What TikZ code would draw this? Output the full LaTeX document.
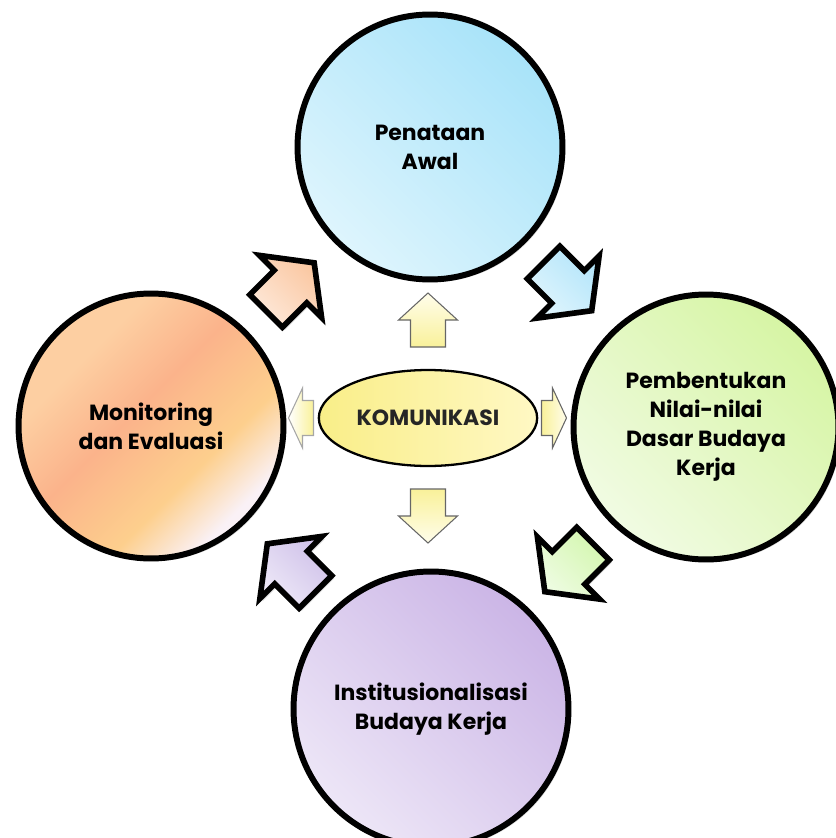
\documentclass[tikz,border=0pt]{standalone}
\usepackage{fontspec}
\setmainfont{Poppins}
\usetikzlibrary{calc,shapes.geometric,shadows}

\definecolor{awalA}{HTML}{A8E3F9}
\definecolor{awalB}{HTML}{DEF5FD}
\definecolor{nilaiA}{HTML}{D6F5A4}
\definecolor{nilaiB}{HTML}{F1FBE3}
\definecolor{instA}{HTML}{CBB5E6}
\definecolor{instB}{HTML}{EDE6F7}
\definecolor{mevA}{HTML}{FDCFA2}
\definecolor{mevB}{HTML}{FBB38B}
\definecolor{mevC}{HTML}{FDCF8D}
\definecolor{mevW}{HTML}{FAF1F6}
\definecolor{peachA}{HTML}{FAC7A1}
\definecolor{peachB}{HTML}{FEE9DA}
\definecolor{blueA}{HTML}{B3E5FA}
\definecolor{blueB}{HTML}{E0F5FD}
\definecolor{greenA}{HTML}{D3F6AE}
\definecolor{greenB}{HTML}{EEFCE2}
\definecolor{lilacA}{HTML}{CFC1E9}
\definecolor{lilacB}{HTML}{EEE9F8}
\definecolor{komA}{HTML}{F9EE88}
\definecolor{komB}{HTML}{FFF8C4}
\definecolor{yshaft}{HTML}{F9F19A}
\definecolor{ytip}{HTML}{FFFDEB}

% orange circle: peach top left, yellow and a pale corner bottom right
\pgfdeclarehorizontalshading{mevshade}{100bp}{color(0bp)=(mevA); color(32bp)=(mevA);
  color(46bp)=(mevB); color(62bp)=(mevC); color(73bp)=(mevW); color(100bp)=(mevW)}

\begin{document}
\begin{tikzpicture}[x=0.02cm, y=-0.02cm,
  stage/.style={circle, draw=black, line width=3.4pt, minimum size=5.3cm, align=center,
    font=\bfseries\fontsize{12.5}{16.5}\selectfont,
    drop shadow={shadow xshift=1.5pt, shadow yshift=-1.5pt, opacity=.3}},
  bigarrow/.style={draw=black, line width=3.2pt,
    drop shadow={shadow xshift=1.5pt, shadow yshift=-1.5pt, opacity=.3}},
  smallarrow/.style={draw=black!60, line width=0.6pt}]

\useasboundingbox (0,0) rectangle (835,838);

% four stages
\node[stage, bottom color=awalB, top color=awalA, shading angle=-45] (awal) at (430,147) {Penataan\\Awal};
\node[stage, bottom color=nilaiB, top color=nilaiA, shading angle=-45] (nilai) at (706,427) {Pembentukan\\Nilai-nilai\\Dasar Budaya\\Kerja};
\node[stage, bottom color=instB, top color=instA, shading angle=-45, minimum size=5.5cm] (inst) at (431,709) {Institusionalisasi\\Budaya Kerja};
\node[stage, shading=mevshade, shading angle=-45] (mev) at (151,426) {Monitoring\\dan Evaluasi};

% centre
\node[ellipse, draw=black, line width=1.3pt, minimum width=4.12cm, minimum height=1.92cm,
  left color=komA, right color=komB, font=\bfseries\fontsize{12.5}{14}\selectfont, text=black!85] (kom) at (428,418) {KOMUNIKASI};

% block arrows between the stages
\draw[bigarrow, bottom color=peachB, top color=peachA, shading angle=-45, shift={($(mev)!.5!(awal)$)}, rotate=45]
  (-34.5,-23) -- (0,-23) -- (0,-44) -- (33.5,0) -- (0,44) -- (0,23) -- (-34.5,23) -- cycle;
\draw[bigarrow, bottom color=blueB, top color=blueA, shading angle=-45, shift={($(awal)!.5!(nilai)$)}, rotate=-45]
  (-34.5,-23) -- (0,-23) -- (0,-44) -- (33.5,0) -- (0,44) -- (0,23) -- (-34.5,23) -- cycle;
\draw[bigarrow, bottom color=greenB, top color=greenA, shading angle=-45, shift={($(nilai)!.5!(inst)$)}, rotate=-135]
  (-34.5,-23) -- (0,-23) -- (0,-44) -- (33.5,0) -- (0,44) -- (0,23) -- (-34.5,23) -- cycle;
\draw[bigarrow, bottom color=lilacB, top color=lilacA, shading angle=-45, shift={($(inst)!.5!(mev)$)}, rotate=135]
  (-34.5,-23) -- (0,-23) -- (0,-44) -- (33.5,0) -- (0,44) -- (0,23) -- (-34.5,23) -- cycle;

% small arrows out of the centre
\draw[smallarrow, bottom color=yshaft, top color=ytip, shift={($(kom)+(0,-98)$)}, rotate=90]
  (-27,-17.5) -- (0,-17.5) -- (0,-29.5) -- (27,0) -- (0,29.5) -- (0,17.5) -- (-27,17.5) -- cycle;
\draw[smallarrow, top color=yshaft, bottom color=ytip, shift={($(kom)+(0,98)$)}, rotate=-90]
  (-27,-17.5) -- (0,-17.5) -- (0,-29.5) -- (27,0) -- (0,29.5) -- (0,17.5) -- (-27,17.5) -- cycle;
\draw[smallarrow, left color=yshaft, right color=ytip, shift={($(kom)+(126,0)$)}]
  (-12.5,-17.5) -- (-1.5,-17.5) -- (-1.5,-30) -- (12.5,0) -- (-1.5,30) -- (-1.5,17.5) -- (-12.5,17.5) -- cycle;
\draw[smallarrow, draw=black!35, right color=yshaft, left color=white, shift={($(kom)+(-127,0)$)}, rotate=180]
  (-12.5,-17.5) -- (-1.5,-17.5) -- (-1.5,-30) -- (12.5,0) -- (-1.5,30) -- (-1.5,17.5) -- (-12.5,17.5) -- cycle;
\end{tikzpicture}
\end{document}
